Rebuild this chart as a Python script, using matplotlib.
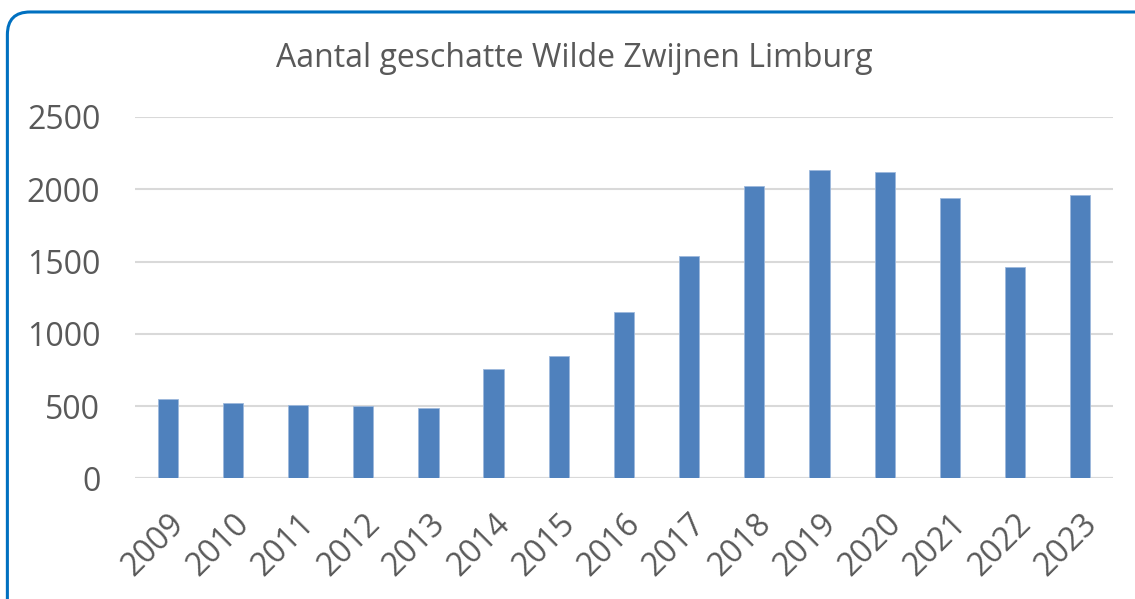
import matplotlib.pyplot as plt
from matplotlib.patches import FancyBboxPatch

years = ["2009", "2010", "2011", "2012", "2013", "2014", "2015", "2016",
         "2017", "2018", "2019", "2020", "2021", "2022", "2023"]
counts = [550, 523, 509, 502, 488, 758, 848, 1150,
          1539, 2021, 2136, 2122, 1936, 1465, 1959]
y_ticks = [0, 500, 1000, 1500, 2000, 2500]

title = "Aantal geschatte Wilde Zwijnen Limburg"
text_color = "#595959"
bar_color = "#4F81BD"
grid_color = "#D9D9D9"

plt.rcParams["font.family"] = ["Open Sans", "DejaVu Sans"]

fig = plt.figure(figsize=(11.35, 5.99), dpi=100)

# rounded blue frame round the whole chart
frame = FancyBboxPatch((0.0065, -0.05), 1.05, 1.03,
                       boxstyle="round,pad=0,rounding_size=0.02",
                       mutation_aspect=1135 / 599,
                       transform=fig.transFigure, facecolor="white",
                       edgecolor="#0070C0", linewidth=2.2, zorder=-5)
fig.patches.append(frame)

ax = fig.add_axes([0.119, 0.2015, 0.8615, 0.6032])
ax.set_facecolor("none")
ax.set_zorder(2)

x = range(len(years))
ax.bar(x, counts, width=0.31, color=bar_color, edgecolor="#9DB9DC",
       linewidth=0.6, zorder=3)

ax.set_xlim(-0.5, len(years) - 0.5)
ax.set_ylim(0, 2500)
ax.set_yticks(y_ticks)
ax.set_yticklabels([str(t) for t in y_ticks])
ax.set_xticks(list(x))
ax.set_xticklabels(years, rotation=45, ha="right", rotation_mode="anchor")

ax.grid(axis="y", color=grid_color, linewidth=1.5, zorder=0)
ax.set_axisbelow(True)
for side in ["top", "right", "left", "bottom"]:
    ax.spines[side].set_visible(False)
ax.axhline(0, color=grid_color, linewidth=1.5, zorder=2)

ax.tick_params(axis="y", length=0, pad=25, labelsize=23, labelcolor=text_color)
ax.tick_params(axis="x", length=0, pad=21, labelsize=23, labelcolor=text_color)

fig.text(0.506, 0.903, title, ha="center", va="center", fontsize=23,
         color=text_color, zorder=3)

fig.savefig("out.png", dpi=100)
